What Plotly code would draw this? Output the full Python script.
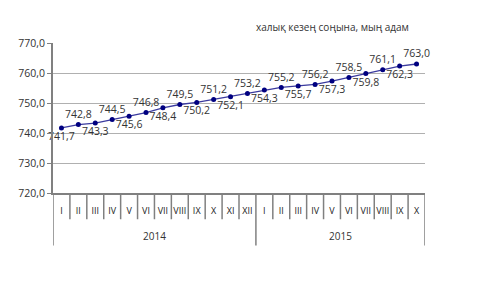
import plotly.graph_objects as go

years = ["2014"] * 12 + ["2015"] * 10
months = ["I", "II", "III", "IV", "V", "VI", "VII", "VIII", "IX", "X", "XI", "XII",
          "I", "II", "III", "IV", "V", "VI", "VII", "VIII", "IX", "X"]
values = [741.7, 742.8, 743.3, 744.5, 745.6, 746.8, 748.4, 749.5, 750.2, 751.2, 752.1, 753.2,
          754.3, 755.2, 755.7, 756.2, 757.3, 758.5, 759.8, 761.1, 762.3, 763.0]
y_ticks = [720, 730, 740, 750, 760, 770]
unit_label = "халық кезең соңына, мың адам"

n = len(values)
idx = list(range(n))
positions = ["bottom center" if i % 2 == 0 else "top center" for i in idx]
labels = [f"{v:.1f}".replace(".", ",") for v in values]

fig = go.Figure()
fig.add_trace(go.Scatter(
    x=idx, y=values, mode="lines+markers+text",
    text=labels, textposition=positions,
    textfont=dict(size=10.5, color="#333333", family="Open Sans"),
    line=dict(color="#3a3a9e", width=1.3),
    marker=dict(color="#000080", size=5),
    cliponaxis=False, showlegend=False,
))

grey = "#808080"
shapes = []
# month separators (short)
for i in range(1, n):
    if years[i] != years[i - 1]:
        continue
    shapes.append(dict(type="line", xref="x", yref="paper", x0=i - 0.5, x1=i - 0.5,
                       y0=0, y1=-0.175, line=dict(color=grey, width=1.5)))
# year separators (long)
bounds = [0] + [i for i in range(1, n) if years[i] != years[i - 1]] + [n]
for b in bounds:
    shapes.append(dict(type="line", xref="x", yref="paper", x0=b - 0.5, x1=b - 0.5,
                       y0=0, y1=-0.35, line=dict(color=grey, width=1.5)))

annotations = [dict(text=unit_label, xref="paper", yref="paper", x=1, y=1.045,
                    xanchor="right", yanchor="bottom", showarrow=False, xshift=-14,
                    font=dict(size=10, color="#333333"))]
for a, b in zip(bounds[:-1], bounds[1:]):
    annotations.append(dict(text=years[a], xref="x", yref="paper", x=(a + b - 1) / 2,
                            y=-0.287, xanchor="center", yanchor="middle", showarrow=False,
                            font=dict(size=10, color="#333333")))

fig.update_layout(
    width=490, height=277,
    margin=dict(l=45, r=73, t=35, b=92),
    paper_bgcolor="white", plot_bgcolor="white",
    separators=", ",
    font=dict(family="Open Sans", size=10, color="#333333"),
    shapes=shapes, annotations=annotations,
)
fig.update_yaxes(range=[720, 770], tickvals=y_ticks, tickformat=".1f",
                 showgrid=True, gridcolor="#b0b0b0", gridwidth=1,
                 showline=True, linecolor=grey, linewidth=2,
                 ticks="outside", ticklen=4, tickcolor=grey, automargin=False,
                 zeroline=False, tickfont=dict(size=10.5))
fig.update_xaxes(range=[-0.5, n - 0.5], tickvals=idx, ticktext=months,
                 showline=True, linecolor=grey, linewidth=2, ticks="",
                 ticklabelstandoff=8, automargin=False,
                 tickangle=0, showgrid=False, zeroline=False,
                 tickfont=dict(size=9, color="#222222"))

fig.write_html("out.html")
